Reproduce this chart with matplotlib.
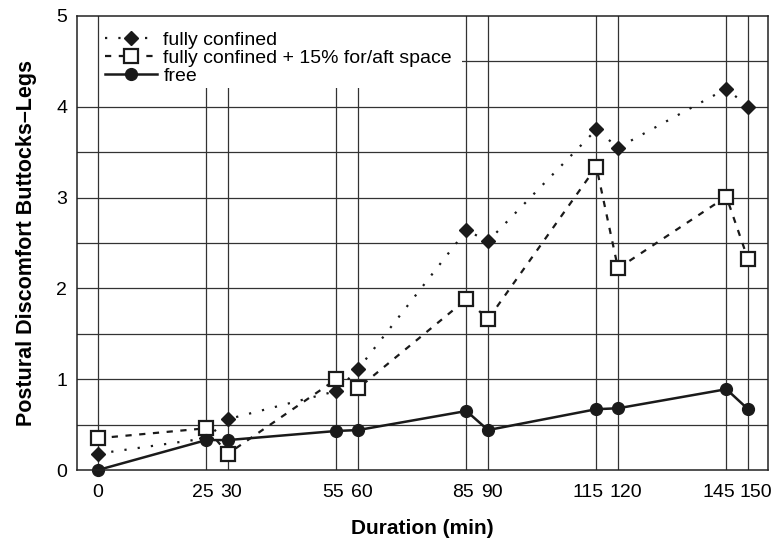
import matplotlib
matplotlib.use("Agg")
import matplotlib.pyplot as plt
import matplotlib.patches as mpatches
import matplotlib.transforms as mtransforms

plt.rcParams['font.family'] = ['Liberation Sans', 'DejaVu Sans']

durations = [0, 25, 30, 55, 60, 85, 90, 115, 120, 145, 150]
tick_labels = ["0", "25", "30", "55", "60", "85", "90", "115", "120", "145", "150"]
fully_confined = [0.18, 0.35, 0.56, 0.87, 1.11, 2.64, 2.52, 3.75, 3.55, 4.20, 4.00]
confined_15 = [0.35, 0.46, 0.18, 1.00, 0.90, 1.88, 1.66, 3.34, 2.22, 3.01, 2.32]
free = [0.00, 0.33, 0.33, 0.43, 0.44, 0.65, 0.44, 0.67, 0.68, 0.89, 0.67]
y_ticks = [0, 1, 2, 3, 4, 5]
y_grid = [0.5, 1, 1.5, 2, 2.5, 3, 3.5, 4, 4.5]

fig = plt.figure(figsize=(7.77, 5.42), dpi=100)
ax = fig.add_axes([0.0991, 0.1328, 0.8893, 0.8377])

gc = '#333333'
for yv in y_grid:
    ax.axhline(yv, color=gc, lw=0.9, zorder=1)
for xv in durations:
    ax.axvline(xv, color=gc, lw=0.9, zorder=5.5 if xv == 0 else 1)

ax.plot(durations, fully_confined, color='#1a1a1a', lw=1.6, dashes=(1, 5),
        marker='D', ms=7.5, mfc='#1a1a1a', mec='#1a1a1a', clip_on=False, zorder=6,
        label='fully confined')
ax.plot(durations, confined_15, color='#1a1a1a', lw=1.6, dashes=(2.8, 3.4),
        marker='s', ms=9.5, mfc='white', mec='#1a1a1a', mew=1.6, clip_on=False, zorder=6,
        label='fully confined + 15% for/aft space')
ax.plot(durations, free, color='#1a1a1a', lw=1.8, ls='-',
        marker='o', ms=8.5, mfc='#1a1a1a', mec='#1a1a1a', clip_on=False, zorder=6,
        label='free')

ax.set_xlim(-4.85, 154.6)
ax.set_ylim(0, 5)
ax.set_xticks(durations)
ax.set_xticklabels(tick_labels, fontsize=14)
ax.set_yticks(y_ticks)
ax.set_yticklabels([str(v) for v in y_ticks], fontsize=14)
ax.tick_params(axis='x', length=0, pad=10)
ax.tick_params(axis='y', length=0, pad=7)

# spread paired tick labels apart slightly, as in the reference
for lab in ax.get_xticklabels():
    t = lab.get_text()
    if t == "0":
        continue
    v = int(t)
    first = (v % 30) != 0
    shift_px = 8.0 if len(t) == 3 else 3.5
    dx = -shift_px if first else shift_px
    off = mtransforms.ScaledTranslation(dx / 100.0, 0, fig.dpi_scale_trans)
    lab.set_transform(lab.get_transform() + off)

for s in ax.spines.values():
    s.set_linewidth(1.1)
    s.set_color('#222222')
    s.set_zorder(7)

ax.set_xlabel('Duration (min)', fontsize=15, fontweight='bold', labelpad=13)
ax.set_ylabel('Postural Discomfort Buttocks\u2013Legs', fontsize=15.5, fontweight='bold', labelpad=14)

# white background behind legend
bg = mpatches.Rectangle((0, 0.841), 0.557, 0.159, transform=ax.transAxes,
                        facecolor='white', edgecolor='none', zorder=4.9)
ax.add_patch(bg)

leg = ax.legend(loc='upper left', bbox_to_anchor=(0.0405, 0.966), frameon=False,
                fontsize=14, handlelength=2.7, handletextpad=0.3,
                labelspacing=0.02, borderpad=0.0, borderaxespad=0.0)
leg.set_zorder(5)

fig.savefig('out.png', dpi=100)
